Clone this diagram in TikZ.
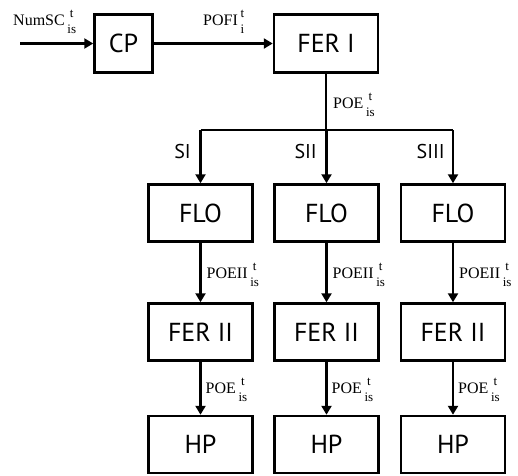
\documentclass[tikz,border=0pt]{standalone}
\usepackage{fontspec}
\setmainfont{Liberation Serif}
\newfontfamily\boxfont{PT Sans}
\usetikzlibrary{arrows.meta}
\newcommand{\lbl}[3]{#1\,\raisebox{8pt}{\fontsize{13}{16}\selectfont\begin{tabular}[t]{@{}c@{}}#2\\#3\end{tabular}}}
\tikzset{
  blk/.style={draw, line width=2.5pt, minimum width=104pt, minimum height=57pt, inner sep=0pt, font=\boxfont\fontsize{26}{26}\selectfont},
  conn/.style={line width=2.5pt},
  arr/.style={conn, -{Triangle[length=9pt,width=10pt]}},
  lab/.style={font=\fontsize{16}{16}\selectfont, inner sep=0pt},
  slab/.style={font=\boxfont\fontsize{20}{20}\selectfont, inner sep=0pt}
}
\begin{document}
\begin{tikzpicture}[x=1pt,y=-1pt]
\useasboundingbox (0,0) rectangle (518,475);
\node[blk, minimum width=58pt, minimum height=58pt] (cp) at (123.5,43.5) {CP};
\node[blk, minimum height=58pt] (feri) at (326,43.5) {FER I};
\coordinate (in) at (20,43.5);
\coordinate (br) at (326,130);
\foreach \i/\x in {1/200.5,2/326.5,3/453}{
  \node[blk] (flo\i) at (\x,213) {FLO};
  \node[blk] (ferii\i) at (\x,332) {FER II};
  \node[blk] (hp\i) at (\x,444.5) {HP};
}
\draw[arr] (in) -- (cp);
\draw[arr] (cp) -- (feri);
\draw[conn] (feri.south) -- (br);
\draw[conn] (flo1.north |- br) -- (flo3.north |- br);
\foreach \i in {1,2,3}{
  \draw[arr] (flo\i.north |- br) -- (flo\i.north);
  \draw[arr] (flo\i) -- (ferii\i);
  \draw[arr] (ferii\i) -- (hp\i);
  \node[lab, anchor=base west] (pa\i) at ([xshift=6pt]flo\i.south |- 0,278) {\lbl{POEII}{t}{is}};
  \node[lab, anchor=base west] (pb\i) at ([xshift=5pt]ferii\i.south |- 0,393) {\lbl{POE}{t}{is}};
}
\node[lab, anchor=base west] (numsc) at (13,25) {\lbl{NumSC}{t}{is}};
\node[lab, anchor=base west] (pofi) at (203,25) {\lbl{POFI}{t}{i}};
\node[lab, anchor=base west] (poe) at (333,108) {\lbl{POE}{t}{is}};
\node[slab, anchor=base east] (s1) at (191,158) {SI};
\node[slab, anchor=base east] (s2) at (317,158) {SII};
\node[slab, anchor=base east] (s3) at (445,158) {SIII};
\end{tikzpicture}
\end{document}
